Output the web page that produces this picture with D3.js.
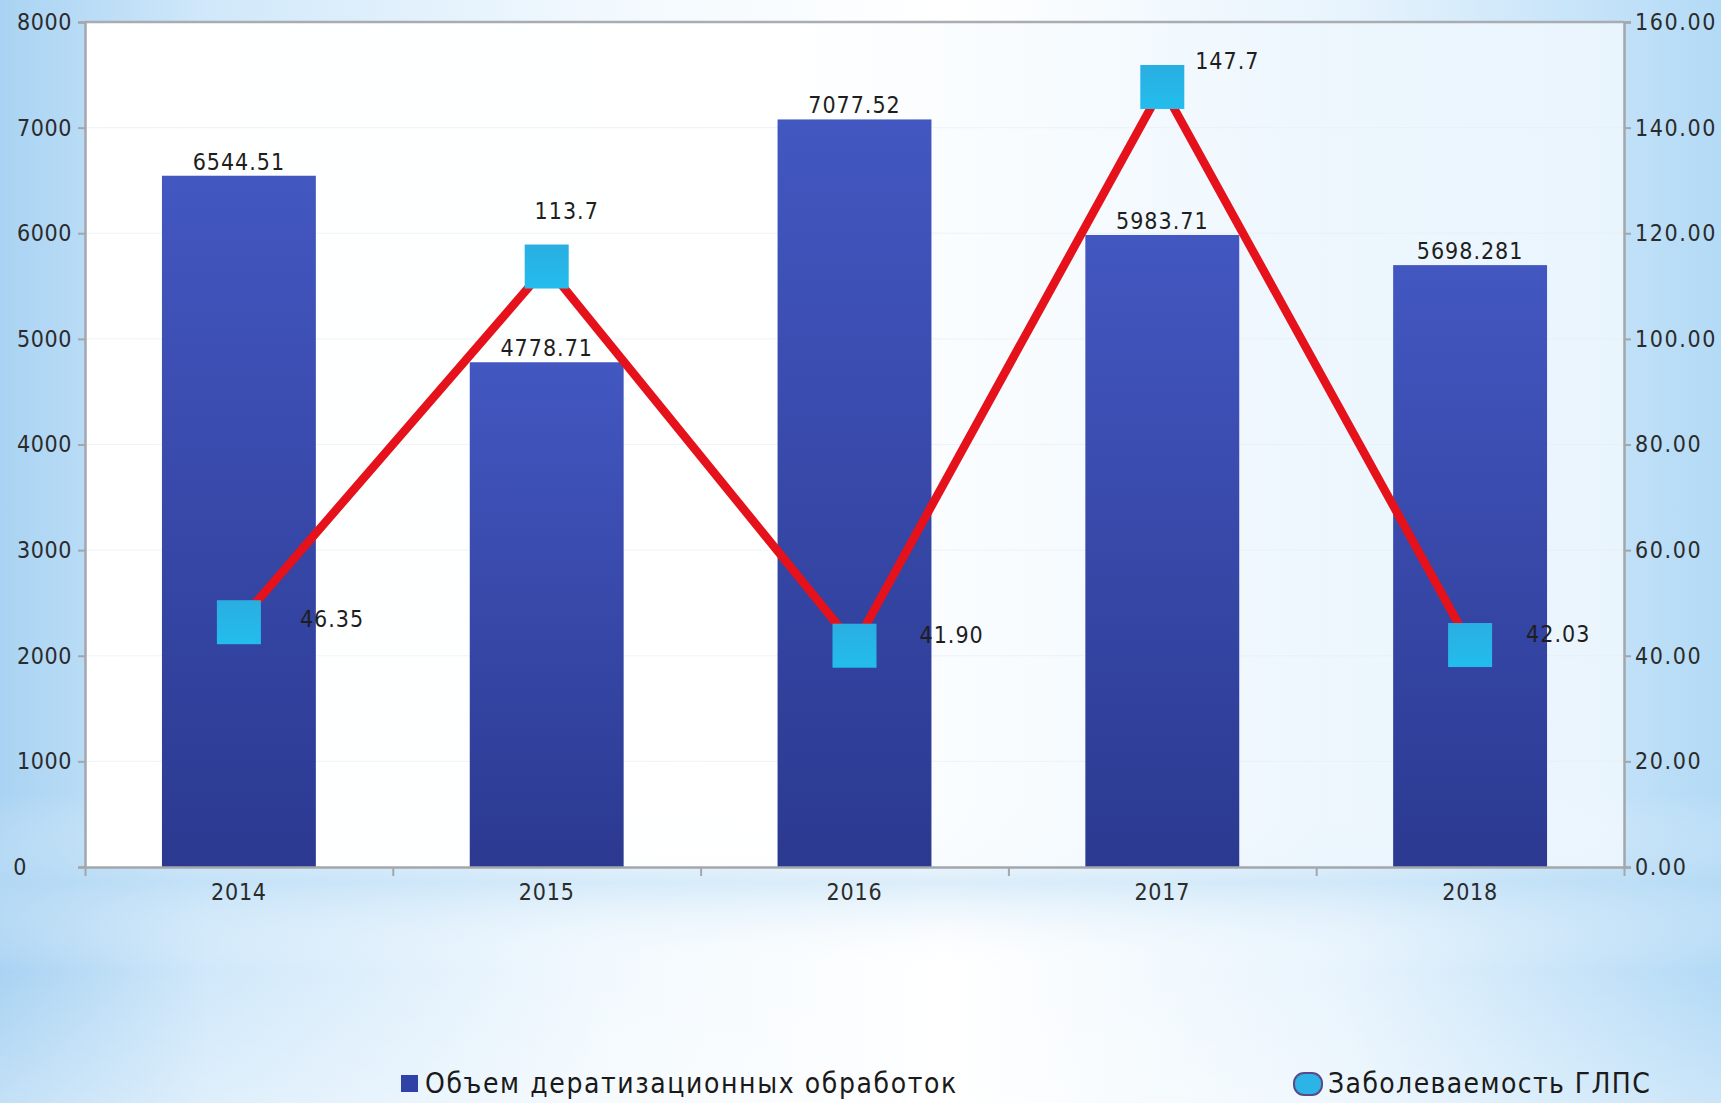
<!DOCTYPE html>
<html>
<head>
<meta charset="utf-8">
<script src="https://cdn.jsdelivr.net/npm/d3@7"></script>
<style>
  html, body { margin: 0; padding: 0; background: #ffffff; }
  svg { display: block; }
  text { font-family: "DejaVu Sans", "Noto Sans", sans-serif; font-stretch: condensed; }
</style>
</head>
<body>
<svg id="chart" width="1721" height="1103"></svg>
<script>
// Years on the category axis
const years = ["2014", "2015", "2016", "2017", "2018"];
// Volume of deratization treatments (bars, left axis)
const treatments = [6544.51, 4778.71, 7077.52, 5983.71, 5698.281];
const treatmentLabels = ["6544.51", "4778.71", "7077.52", "5983.71", "5698.281"];
// HFRS incidence (line, right axis)
const incidence = [46.35, 113.7, 41.90, 147.7, 42.03];
const incidenceLabels = ["46.35", "113.7", "41.90", "147.7", "42.03"];
// Axis ticks
const leftTicks = [0, 1000, 2000, 3000, 4000, 5000, 6000, 7000, 8000];
const rightTicks = [0, 20, 40, 60, 80, 100, 120, 140, 160];
// Legend entries
const legendNames = ["Объем дератизационных обработок", "Заболеваемость ГЛПС"];

// Label placement next to each incidence marker: [dx, dy, anchor]
const incidenceLabelPlacement = [
  [61, -3, "start"], [20, -56, "middle"], [65, -11, "start"], [65, -26, "middle"], [56, -11, "start"]
];

const W = 1721, H = 1103;
const plot = { left: 85, right: 1624, top: 22, bottom: 867 };

const svg = d3.select("#chart");
const defs = svg.append("defs");

// Page background: pale blue edges fading to white in the middle
const bg = defs.append("linearGradient").attr("id", "bgH").attr("x1", 0).attr("x2", 1).attr("y1", 0).attr("y2", 0);
[[0, "#a9d3f3"], [0.12, "#d0e8fa"], [0.35, "#f2f9fe"], [0.55, "#ffffff"], [0.78, "#e8f4fd"], [1, "#b3daf6"]]
  .forEach(([o, c]) => bg.append("stop").attr("offset", o).attr("stop-color", c));
const bgV = defs.append("linearGradient").attr("id", "bgV").attr("x1", 0).attr("x2", 0).attr("y1", 0).attr("y2", 1);
[[0, "#ffffff", 0], [0.72, "#ffffff", 0], [0.8, "#b9dcf5", 0.5], [0.88, "#ffffff", 0.0], [1, "#ffffff", 0.3]]
  .forEach(([o, c, a]) => bgV.append("stop").attr("offset", o).attr("stop-color", c).attr("stop-opacity", a));

svg.append("rect").attr("width", W).attr("height", H).attr("fill", "url(#bgH)");
svg.append("rect").attr("width", W).attr("height", H).attr("fill", "url(#bgV)");

// Plot area: white on the left, picking up a light blue tint to the right
const pa = defs.append("linearGradient").attr("id", "plotBg").attr("x1", 0).attr("x2", 1).attr("y1", 0).attr("y2", 0);
[[0, "#ffffff", 1], [0.45, "#ffffff", 0.95], [0.8, "#eef7fe", 0.85], [1, "#f0f8fe", 0.85]]
  .forEach(([o, c, a]) => pa.append("stop").attr("offset", o).attr("stop-color", c).attr("stop-opacity", a));
svg.append("rect")
  .attr("x", plot.left).attr("y", plot.top)
  .attr("width", plot.right - plot.left).attr("height", plot.bottom - plot.top)
  .attr("fill", "url(#plotBg)");

// Bar fill
const barGrad = defs.append("linearGradient").attr("id", "barGrad").attr("x1", 0).attr("x2", 0).attr("y1", 0).attr("y2", 1);
barGrad.append("stop").attr("offset", 0).attr("stop-color", "#4357c1");
barGrad.append("stop").attr("offset", 1).attr("stop-color", "#2b3990");

// Marker fill
const mkGrad = defs.append("linearGradient").attr("id", "mkGrad").attr("x1", 0).attr("x2", 0).attr("y1", 0).attr("y2", 1);
mkGrad.append("stop").attr("offset", 0).attr("stop-color", "#2aaee2");
mkGrad.append("stop").attr("offset", 1).attr("stop-color", "#22bdec");

// Scales
const x = d3.scaleBand().domain(years).range([plot.left, plot.right]).paddingInner(0.5).paddingOuter(0.25);
const xEdge = d3.scaleLinear().domain([0, years.length]).range([plot.left, plot.right]);
const yL = d3.scaleLinear().domain([0, 8000]).range([plot.bottom, plot.top]);
const yR = d3.scaleLinear().domain([0, 160]).range([plot.bottom, plot.top]);

// Faint horizontal gridlines
svg.append("g").selectAll("line").data(leftTicks.slice(1)).join("line")
  .attr("x1", plot.left).attr("x2", plot.right)
  .attr("y1", d => yL(d)).attr("y2", d => yL(d))
  .attr("stroke", "#e6eef5").attr("stroke-width", 1).attr("opacity", 0.6);

// Top border of the plot
svg.append("line").attr("x1", plot.left).attr("x2", plot.right).attr("y1", plot.top).attr("y2", plot.top)
  .attr("stroke", "#a9adb2").attr("stroke-width", 2.5);

// Bars
svg.append("g").selectAll("rect").data(years).join("rect")
  .attr("x", d => x(d))
  .attr("width", x.bandwidth())
  .attr("y", (d, i) => yL(treatments[i]))
  .attr("height", (d, i) => plot.bottom - yL(treatments[i]))
  .attr("fill", "url(#barGrad)");

// Axes
const axisColor = "#a3a7ac";
const tickFont = "23px";

const left = svg.append("g").attr("transform", `translate(${plot.left},0)`)
  .call(d3.axisLeft(yL).tickValues(leftTicks).tickFormat(d3.format("d")).tickSize(7).tickPadding(6));
const right = svg.append("g").attr("transform", `translate(${plot.right},0)`)
  .call(d3.axisRight(yR).tickValues(rightTicks).tickFormat(d3.format(".2f")).tickSize(7).tickPadding(4));
const bottomTicks = svg.append("g").attr("transform", `translate(0,${plot.bottom})`)
  .call(d3.axisBottom(xEdge).tickValues(d3.range(years.length + 1)).tickFormat("").tickSize(9).tickSizeOuter(0));
const bottomLabels = svg.append("g").attr("transform", `translate(0,${plot.bottom})`)
  .call(d3.axisBottom(x).tickSize(0).tickPadding(17));
bottomLabels.select(".domain").remove();

[left, right, bottomTicks].forEach(g => {
  g.select(".domain").attr("stroke", axisColor).attr("stroke-width", 2.5);
  g.selectAll(".tick line").attr("stroke", axisColor).attr("stroke-width", 2);
});
[left, right, bottomLabels].forEach(g => {
  g.selectAll("text").attr("font-size", tickFont).attr("fill", "#2b2b2b")
    .style("font-family", "'DejaVu Sans', sans-serif").style("font-stretch", "condensed");
});
right.selectAll("text").style("letter-spacing", "1.6px");
left.selectAll("text").style("letter-spacing", "0.6px");
bottomLabels.selectAll("text").style("letter-spacing", "0.8px");
left.select(".tick text").attr("dx", -45); // "0" sits out at the far left

// Bar value labels
svg.append("g").selectAll("text").data(years).join("text")
  .attr("x", d => x(d) + x.bandwidth() / 2)
  .attr("y", (d, i) => yL(treatments[i]) - 6)
  .attr("text-anchor", "middle")
  .attr("font-size", tickFont).attr("fill", "#1e1e1e")
  .style("letter-spacing", "1px")
  .text((d, i) => treatmentLabels[i]);

// Incidence line
const cx = d => x(d) + x.bandwidth() / 2;
const line = d3.line().x((d, i) => cx(years[i])).y(d => yR(d));
svg.append("path").datum(incidence)
  .attr("d", line)
  .attr("fill", "none")
  .attr("stroke", "#e5121c")
  .attr("stroke-width", 8.5)
  .attr("stroke-linejoin", "miter");

// Square markers
const mk = 44;
svg.append("g").selectAll("rect").data(incidence).join("rect")
  .attr("x", (d, i) => cx(years[i]) - mk / 2)
  .attr("y", d => yR(d) - mk / 2)
  .attr("width", mk).attr("height", mk)
  .attr("fill", "url(#mkGrad)");

// Incidence value labels
svg.append("g").selectAll("text").data(incidence).join("text")
  .attr("x", (d, i) => cx(years[i]) + incidenceLabelPlacement[i][0])
  .attr("y", (d, i) => yR(d) + incidenceLabelPlacement[i][1])
  .attr("dy", "0.35em")
  .attr("text-anchor", (d, i) => incidenceLabelPlacement[i][2])
  .attr("font-size", tickFont).attr("fill", "#1e1e1e")
  .style("letter-spacing", "1px")
  .text((d, i) => incidenceLabels[i]);

// Legend
const legendY = 1083;
const lg = svg.append("g");
lg.append("rect").attr("x", 401).attr("y", legendY - 8).attr("width", 17).attr("height", 17).attr("fill", "#2f43a6");
lg.append("text").attr("x", 425).attr("y", legendY).attr("dy", "0.36em")
  .attr("font-size", "28px").attr("fill", "#1a1a1a").style("letter-spacing", "1.6px").text(legendNames[0]);
lg.append("rect").attr("x", 1294).attr("y", legendY - 10).attr("width", 28).attr("height", 22)
  .attr("rx", 10).attr("ry", 10).attr("fill", "#2cb4e6").attr("stroke", "#5a4a8a").attr("stroke-width", 2);
lg.append("text").attr("x", 1328).attr("y", legendY).attr("dy", "0.36em")
  .attr("font-size", "28px").attr("fill", "#1a1a1a").style("letter-spacing", "1.4px").text(legendNames[1]);
</script>
</body>
</html>
